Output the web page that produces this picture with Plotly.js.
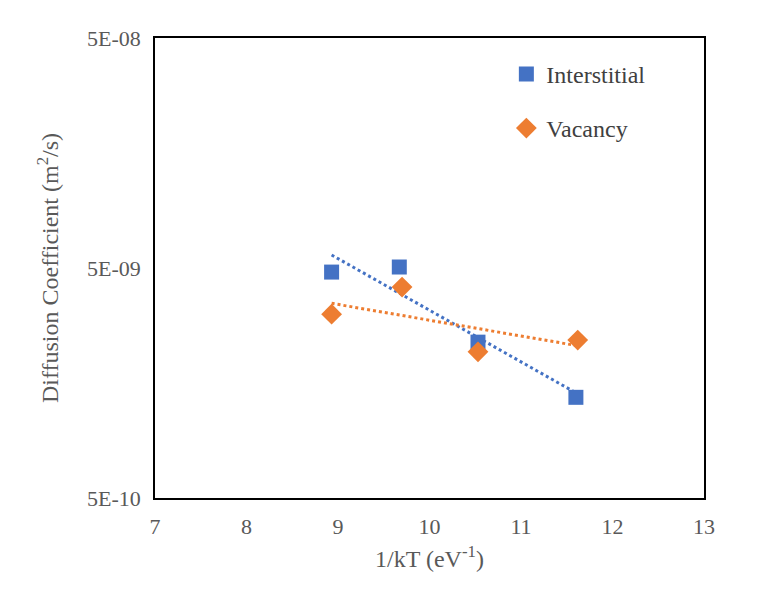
<!DOCTYPE html>
<html>
<head>
<script src="https://cdn.plot.ly/plotly-3.0.1.min.js"></script>
</head>
<body style="margin:0">
<div id="plot" style="width:757px;height:613px"></div>
<script>
// values
const invKT_int = [8.93, 9.67, 10.53, 11.6];
const diff_int = [4.8e-9, 5.05e-9, 2.38e-9, 1.37e-9];
const invKT_vac = [8.93, 9.7, 10.53, 11.62];
const diff_vac = [3.15e-9, 4.13e-9, 2.16e-9, 2.43e-9];
const yTicks = [5e-10, 5e-9, 5e-8];
const yTickText = ["5E-10", "5E-09", "5E-08"];

// exponential trendline (least squares on ln y), like Excel's
function expFit(xs, ys) {
  const n = xs.length;
  const ly = ys.map(Math.log);
  const mx = xs.reduce((a, b) => a + b) / n;
  const my = ly.reduce((a, b) => a + b) / n;
  let sxy = 0, sxx = 0;
  for (let i = 0; i < n; i++) {
    sxy += (xs[i] - mx) * (ly[i] - my);
    sxx += (xs[i] - mx) ** 2;
  }
  const b = sxy / sxx, a = my - b * mx;
  const x0 = Math.min(...xs), x1 = Math.max(...xs);
  const fx = [], fy = [];
  for (let i = 0; i <= 20; i++) {
    const x = x0 + (x1 - x0) * i / 20;
    fx.push(x);
    fy.push(Math.exp(a + b * x));
  }
  return { x: fx, y: fy };
}

const fitInt = expFit(invKT_int, diff_int);
const fitVac = expFit(invKT_vac, diff_vac);

const traces = [
  { x: fitInt.x, y: fitInt.y, mode: "lines", showlegend: false, hoverinfo: "skip",
    line: { color: "#4472C4", width: 3, dash: "dot" } },
  { x: fitVac.x, y: fitVac.y, mode: "lines", showlegend: false, hoverinfo: "skip",
    line: { color: "#ED7D31", width: 3, dash: "dot" } },
  { x: invKT_int, y: diff_int, mode: "markers", name: "Interstitial", legendgroup: "a",
    marker: { symbol: "square", size: 15, color: "#4472C4" } },
  { x: invKT_vac, y: diff_vac, mode: "markers", name: "Vacancy", legendgroup: "b",
    marker: { symbol: "diamond", size: 16, color: "#ED7D31" } }
];

Plotly.newPlot("plot", traces, {
  width: 757, height: 613,
  margin: { l: 155, r: 53, t: 38, b: 115 },
  paper_bgcolor: "white", plot_bgcolor: "white",
  font: { family: "Liberation Serif, Times New Roman, serif", size: 22, color: "#595959" },
  xaxis: {
    range: [7, 13], dtick: 1, showgrid: false, zeroline: false,
    showline: true, mirror: true, linecolor: "black", linewidth: 1.5,
    ticks: "", ticklen: 0, ticklabelstandoff: 8, tickfont: { size: 22 },
    title: { text: "1/kT (eV<sup>-1</sup>)", font: { size: 24 }, standoff: 12 }
  },
  yaxis: {
    type: "log", range: [Math.log10(5e-10), Math.log10(5e-8)],
    tickvals: yTicks, ticktext: yTickText, showgrid: false, zeroline: false,
    showline: true, mirror: true, linecolor: "black", linewidth: 1.5,
    ticks: "", ticklabelstandoff: 8, tickfont: { size: 22 },
    title: { text: "Diffusion Coefficient (m<sup>2</sup>/s)", font: { size: 24 }, standoff: 22 }
  },
  legend: {
    x: 0.64, y: 0.97, xanchor: "left", yanchor: "top",
    font: { size: 24, color: "#404040" }, tracegroupgap: 20,
    bgcolor: "rgba(0,0,0,0)"
  },
  showlegend: true
}, { displayModeBar: false });
</script>
</body>
</html>
